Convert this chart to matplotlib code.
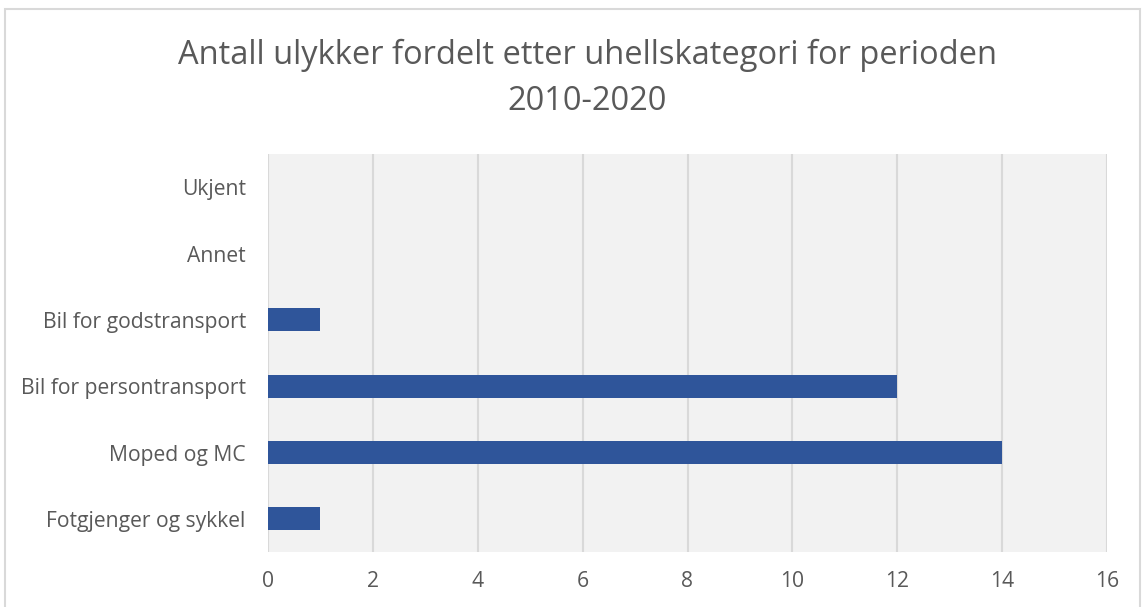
import matplotlib
matplotlib.use("Agg")
import matplotlib.pyplot as plt
from matplotlib.patches import Rectangle

# data
kategorier = ["Fotgjenger og sykkel", "Moped og MC", "Bil for persontransport",
              "Bil for godstransport", "Annet", "Ukjent"]
antall = [1, 14, 12, 1, 0, 0]
xticks = list(range(0, 17, 2))

plt.rcParams['font.family'] = ['Open Sans', 'DejaVu Sans']
tekst = '#595959'

fig = plt.figure(figsize=(11.47, 6.07), dpi=100)
ax = fig.add_axes([268/1147, 1-552/607, (1107-268)/1147, (552-154)/607])
ax.set_facecolor('#f2f2f2')

ax.barh(range(len(kategorier)), antall, height=0.35, color='#2f559a', zorder=3)

ax.set_xlim(0, 16)
ax.set_ylim(-0.5, len(kategorier) - 0.5)
ax.set_xticks(xticks)
ax.set_yticks(range(len(kategorier)))
ax.set_yticklabels(kategorier)
ax.tick_params(axis='both', length=0, labelsize=15.2, colors=tekst)
ax.tick_params(axis='x', pad=14)
ax.tick_params(axis='y', pad=16)
ax.grid(axis='x', color='#d9d9d9', linewidth=1.5, zorder=0)
for s in ax.spines.values():
    s.set_visible(False)

fig.text(587/1147, 1-55/607, "Antall ulykker fordelt etter uhellskategori for perioden",
         ha='center', va='center', fontsize=23.5, color=tekst)
fig.text(587/1147, 1-101/607, "2010-2020",
         ha='center', va='center', fontsize=23.5, color=tekst)

# ramme rundt diagrammet
fig.patches.append(Rectangle((5/1147, -0.01), 1135/1147, 1-9/607 + 0.01,
                             transform=fig.transFigure, fill=False,
                             edgecolor='#d9d9d9', linewidth=1.5))

fig.savefig("out.png", dpi=100)
